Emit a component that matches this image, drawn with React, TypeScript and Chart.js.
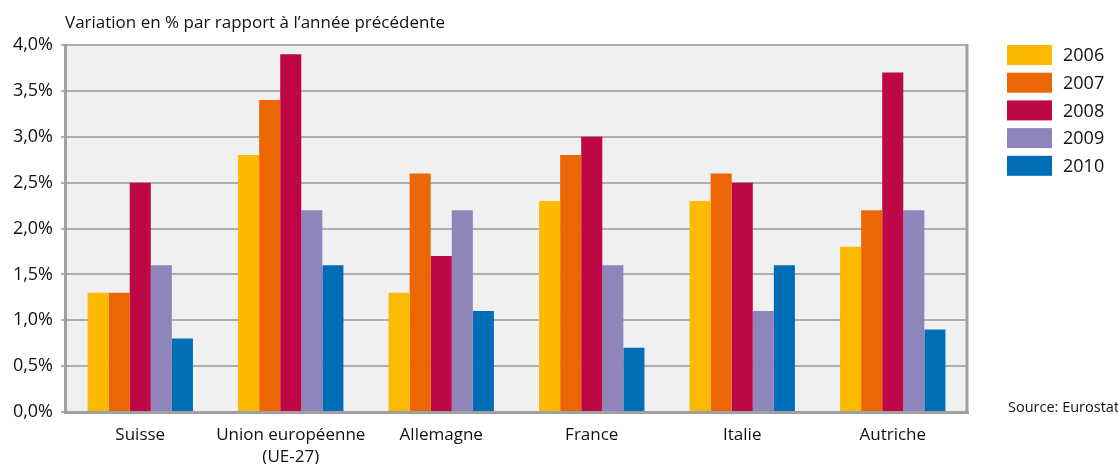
import React, { useEffect, useRef } from "react";
import { Chart, registerables } from "chart.js";

Chart.register(...registerables);

const categories: (string | string[])[] = [
  "Suisse",
  ["Union européenne", "(UE-27)"],
  "Allemagne",
  "France",
  "Italie",
  "Autriche",
];
const seriesLabels = ["2006", "2007", "2008", "2009", "2010"];
const values2006 = [1.3, 2.8, 1.3, 2.3, 2.3, 1.8];
const values2007 = [1.3, 3.4, 2.6, 2.8, 2.6, 2.2];
const values2008 = [2.5, 3.9, 1.7, 3.0, 2.5, 3.7];
const values2009 = [1.6, 2.2, 2.2, 1.6, 1.1, 2.2];
const values2010 = [0.8, 1.6, 1.1, 0.7, 1.6, 0.9];
const seriesColors = ["#FBBA00", "#ED6605", "#BE0747", "#8F85BB", "#006EB7"];
const yTitle = "Variation en % par rapport à l’année précédente";
const sourceText = "Source: Eurostat";

const FONT = "'Open Sans', 'DejaVu Sans', sans-serif";

const decorPlugin = {
  id: "decor",
  beforeDraw(chart: any) {
    const { ctx, chartArea } = chart;
    ctx.save();
    ctx.fillStyle = "#F0F0F0";
    ctx.fillRect(chartArea.left, chartArea.top, chartArea.right - chartArea.left, chartArea.bottom - chartArea.top);
    ctx.restore();
  },
  afterDraw(chart: any) {
    const { ctx, chartArea } = chart;
    ctx.save();
    // right border
    ctx.strokeStyle = "#A0A0A0";
    ctx.lineWidth = 3;
    ctx.beginPath();
    ctx.moveTo(chartArea.right - 1, chartArea.top - 1);
    ctx.lineTo(chartArea.right - 1, chartArea.bottom + 1);
    ctx.stroke();
    // title
    ctx.fillStyle = "#111";
    ctx.font = `17px ${FONT}`;
    ctx.textAlign = "left";
    ctx.textBaseline = "alphabetic";
    ctx.fillText(yTitle, chartArea.left, 28);
    // legend
    const lx = chartArea.right + 39;
    chart.data.datasets.forEach((ds: any, i: number) => {
      const y = 45 + i * 27.7;
      ctx.fillStyle = ds.backgroundColor;
      ctx.fillRect(lx, y, 45, 20);
      ctx.fillStyle = "#111";
      ctx.font = `18px ${FONT}`;
      ctx.textBaseline = "middle";
      ctx.fillText(ds.label, lx + 56, y + 11);
    });
    // source
    ctx.font = `14.5px ${FONT}`;
    ctx.textBaseline = "alphabetic";
    ctx.fillText(sourceText, chartArea.right + 40, 412);
    ctx.restore();
  },
};

export default function App() {
  const ref = useRef<HTMLCanvasElement | null>(null);
  useEffect(() => {
    document.body.style.margin = "0";
    if (!ref.current) return;
    const seriesValues = [values2006, values2007, values2008, values2009, values2010];
    const chart = new Chart(ref.current, {
      type: "bar",
      data: {
        labels: categories,
        datasets: seriesLabels.map((label, i) => ({
          label,
          data: seriesValues[i],
          backgroundColor: seriesColors[i],
          borderWidth: 0,
          categoryPercentage: 0.7,
          barPercentage: 1.0,
        })),
      },
      options: {
        animation: false,
        responsive: true,
        maintainAspectRatio: false,
        layout: { padding: { top: 45, right: 150, left: 0, bottom: 0 } },
        plugins: {
          legend: { display: false },
          tooltip: { enabled: false },
          title: { display: false },
        },
        scales: {
          x: {
            grid: { display: false, drawTicks: false },
            border: { color: "#A0A0A0", width: 3 },
            ticks: {
              color: "#111",
              font: { family: FONT, size: 17, lineHeight: 1.3 },
              padding: 12,
              maxRotation: 0,
              autoSkip: false,
            },
            afterFit: (scale: any) => {
              scale.height = 52;
            },
          },
          y: {
            min: 0,
            max: 4,
            ticks: {
              stepSize: 0.5,
              color: "#111",
              font: { family: FONT, size: 18 },
              padding: 8,
              callback: (v: any) => Number(v).toFixed(1).replace(".", ",") + "%",
            },
            grid: { color: "#ADADAD", lineWidth: 2, tickLength: 4, tickColor: "#ADADAD" },
            border: { color: "#A0A0A0", width: 3 },
            afterFit: (scale: any) => {
              scale.width = 65;
            },
          },
        },
      },
      plugins: [decorPlugin],
    });
    return () => chart.destroy();
  }, []);
  return (
    <div style={{ position: "relative", width: 1118, height: 464 }}>
      <canvas ref={ref} />
    </div>
  );
}
